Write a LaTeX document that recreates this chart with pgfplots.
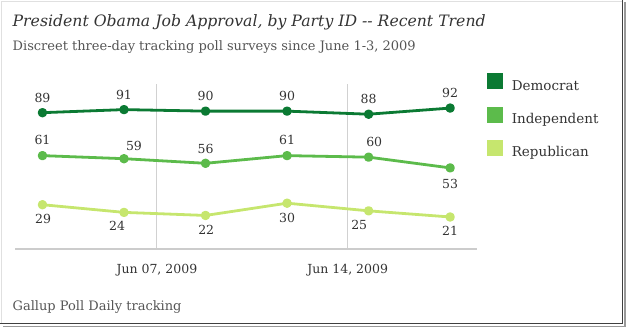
\documentclass[border=0pt]{standalone}
\usepackage{pgfplots}
\pgfplotsset{compat=1.18}
\usepackage{pgfplotstable}
\usepackage{fontspec}
\setmainfont{DejaVu Serif}
\definecolor{dem}{HTML}{0B7A33}
\definecolor{ind}{HTML}{5CBB4B}
\definecolor{rep}{HTML}{C6E66E}
\definecolor{txt}{HTML}{333333}
\definecolor{sub}{HTML}{555555}

\pgfplotstableread{
x y dx dy
3 89 0 15
6 91 0 15
9 90 0 15
12 90 0 15.5
15 88 0 15.5
18 92 0 14.7
}\demtab
\pgfplotstableread{
x y dx dy
3 61 0 15.7
6 59 10 12.3
9 56 0 14.6
12 61 0 15.3
15 60 5.6 15.3
18 53 0 -15.6
}\indtab
\pgfplotstableread{
x y dx dy
3 29 0.7 -14
6 24 -7 -13.3
9 22 0.7 -14.7
12 30 0 -14.3
15 25 -9.4 -14
18 21 0 -14.3
}\reptab

\begin{document}
\begin{tikzpicture}[x=1pt,y=1pt]
\path (0,0) rectangle (626,328);
% frame
\draw[black!12] (0.5,4.5) -- (0.5,327.5) -- (622,327.5);
\draw[black!40, line width=1.5pt] (625,326) -- (625,1.5) -- (3,1.5);
\draw[black!75, line width=1pt] (622.5,328) -- (622.5,4.5) -- (0,4.5);
\begin{axis}[
  at={(14.8pt,79.1pt)}, anchor=south west,
  scale only axis, width=462.4pt, height=165.8pt,
  xmin=2, xmax=19, ymin=0, ymax=108,
  axis x line=bottom, axis y line=none,
  axis line style={-, draw=black!20, line width=1.6pt},
  xtick={7.21,14.23}, xticklabels={{Jun 07, 2009},{Jun 14, 2009}},
  major tick length=0pt, ytick=\empty,
  xmajorgrids, grid style={black!18, line width=0.9pt},
  xticklabel style={font=\fontsize{12.5}{14}\selectfont, text=txt, anchor=center, yshift=-21pt},
  clip=false,
  /pgf/number format/assume math mode=true,
  point meta=explicit,
  nodes near coords,
  visualization depends on={\thisrow{dx} \as \dx},
  visualization depends on={\thisrow{dy} \as \dy},
  nodes near coords style={font=\fontsize{12.5}{14}\selectfont, text=txt, anchor=center, xshift=\dx pt, yshift=\dy pt},
  every axis plot/.append style={line width=2.8pt, mark=*, mark size=3.3pt, line join=round},
  legend style={draw=none, fill=none, at={(1.0212,1.061)}, anchor=north west,
    inner sep=0pt, outer sep=0pt, row sep=15.1pt, font=\fontsize{13.5}{15}\selectfont,
    nodes={inner sep=0pt, text=txt}},
  legend cell align=left,
  legend image code/.code={\fill[#1, draw=none] (0pt,-3.5pt) rectangle (16pt,12.5pt);},
  /tikz/every odd column/.append style={column sep=8.7pt},
]
\addplot[color=dem] table[x=x, y=y, meta=y] {\demtab};
\addlegendentry{Democrat}
\addplot[color=ind] table[x=x, y=y, meta=y] {\indtab};
\addlegendentry{Independent}
\addplot[color=rep] table[x=x, y=y, meta=y] {\reptab};
\addlegendentry{Republican}
\end{axis}
\node[anchor=west, inner sep=0pt, text=txt, font=\fontsize{15.7}{18}\selectfont\itshape] at (12,306) {President Obama Job Approval, by Party ID -{}- Recent Trend};
\node[anchor=west, inner sep=0pt, text=sub, font=\fontsize{13}{15}\selectfont] at (12,281) {Discreet three-day tracking poll surveys since June 1-3, 2009};
\node[anchor=west, inner sep=0pt, text=sub, font=\fontsize{13}{15}\selectfont] at (12,21) {Gallup Poll Daily tracking};
\end{tikzpicture}
\end{document}
